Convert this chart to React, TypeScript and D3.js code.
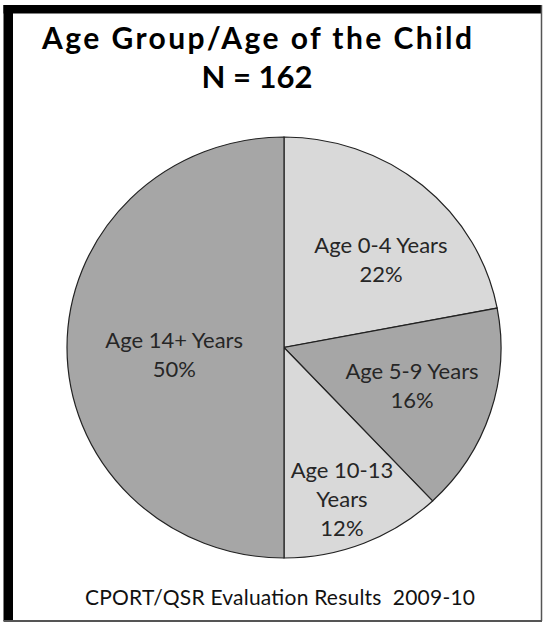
import React from "react";
import * as d3 from "d3";

const categories = ["Age 0-4 Years", "Age 5-9 Years", "Age 10-13 Years", "Age 14+ Years"];
const values = [22, 16, 12, 50];
const labelLines = [["Age 0-4 Years", "22%"], ["Age 5-9 Years", "16%"], ["Age 10-13", "Years", "12%"], ["Age 14+ Years", "50%"]];
const titleLines = ["Age Group/Age of the Child", "N = 162"];
const footer = "CPORT/QSR Evaluation Results\u00a0 2009-10";

const W = 543, H = 623;
const cx = 284, cy = 347.5, R = 217, SY = 0.97;
const fills = ["#d9d9d9", "#a6a6a6", "#d9d9d9", "#a6a6a6"];
const labelR = [132.8, 134, 167, 110];
const labelShiftDeg = [7.3, -0.8, 1.3, -3.5];
const FONT = "Lato, 'Open Sans', sans-serif";

export default function App() {
  const pie = d3.pie<number>().sort(null).value((d) => d);
  const arcs = pie(values);
  const arc = d3.arc<d3.PieArcDatum<number>>().innerRadius(0).outerRadius(R);
  const lh = 29;
  return (
    <svg width={W} height={H} style={{ position: "absolute", left: 0, top: 0, background: "#fff" }} fontFamily={FONT}>
      <rect x={0} y={0} width={W} height={H} fill="#fff" />
      {/* frame */}
      <rect x={3.5} y={5} width={9.5} height={616} fill="#000" />
      <rect x={3.5} y={5} width={538.5} height={8.5} fill="#000" />
      <line x1={541.5} y1={5} x2={541.5} y2={621} stroke="#555" strokeWidth={1.5} />
      <line x1={3.5} y1={621} x2={542} y2={621} stroke="#555" strokeWidth={2} />
      <text x={257} y={49} textAnchor="middle" fontSize={30} fontWeight="bold" fill="#000" textLength={430} lengthAdjust="spacing">{titleLines[0]}</text>
      <text x={257} y={88} textAnchor="middle" fontSize={31} fontWeight="bold" fill="#000">{titleLines[1]}</text>
      <g transform={`translate(${cx},${cy}) scale(1,${SY})`}>
        {arcs.map((a, i) => (
          <path key={categories[i]} d={arc(a) || ""} fill={fills[i]} stroke="#222" strokeWidth={1.2} vectorEffect="non-scaling-stroke" />
        ))}
      </g>
      {arcs.map((a, i) => {
        const mid = (a.startAngle + a.endAngle) / 2 + (labelShiftDeg[i] * Math.PI) / 180;
        const lx = cx + labelR[i] * Math.sin(mid);
        const ly = cy - labelR[i] * Math.cos(mid) * SY;
        const lines = labelLines[i];
        const n = lines.length;
        return (
          <text key={categories[i]} textAnchor="middle" fontSize={22} fill="#262626">
            {lines.map((t, j) => (
              <tspan key={j} x={lx} y={ly + (j - (n - 1) / 2) * lh + 8}>{t}</tspan>
            ))}
          </text>
        );
      })}
      <text x={280} y={605} textAnchor="middle" fontSize={21} fill="#111" textLength={390} lengthAdjust="spacing">{footer}</text>
    </svg>
  );
}
